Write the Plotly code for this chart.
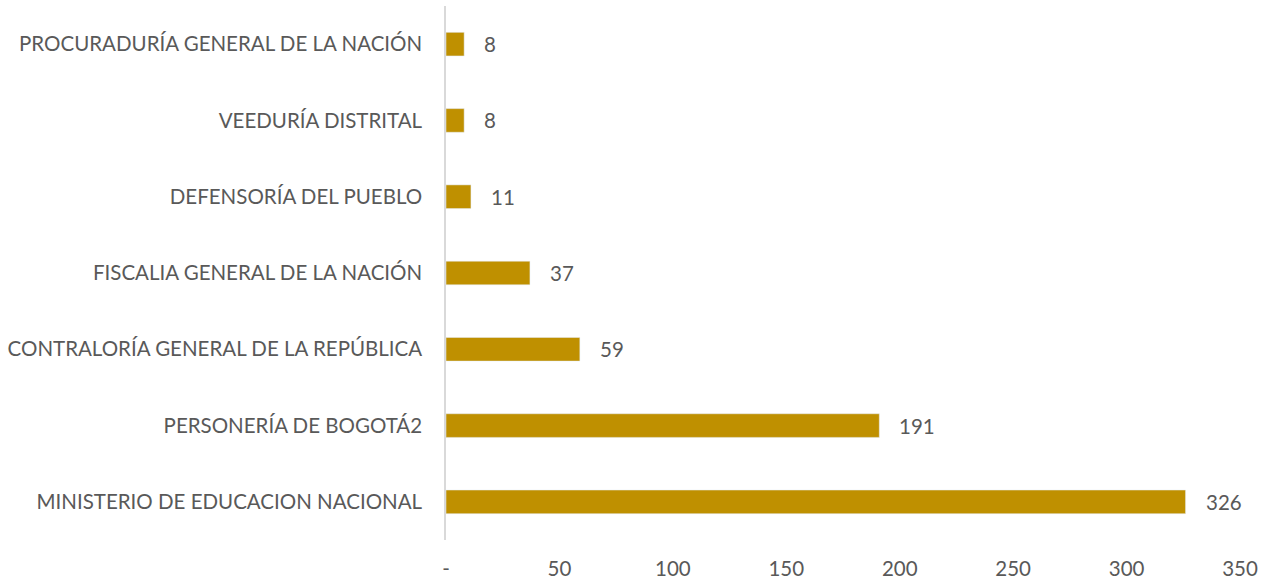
import plotly.graph_objects as go

categories = [
    "MINISTERIO DE EDUCACION NACIONAL",
    "PERSONERÍA DE BOGOTÁ2",
    "CONTRALORÍA GENERAL DE LA REPÚBLICA",
    "FISCALIA GENERAL DE LA NACIÓN",
    "DEFENSORÍA DEL PUEBLO",
    "VEEDURÍA DISTRITAL",
    "PROCURADURÍA GENERAL DE LA NACIÓN",
]
values = [326, 191, 59, 37, 11, 8, 8]
tick_vals = [0, 50, 100, 150, 200, 250, 300, 350]
tick_text = ["-", "50", "100", "150", "200", "250", "300", "350"]

FONT = "Lato"
GRAY = "#595959"
FS = 20.5

fig = go.Figure(go.Bar(
    y=categories, x=values, orientation="h",
    marker=dict(color="#BF9000"), width=0.31,
))

for c, v in zip(categories, values):
    fig.add_annotation(x=v, y=c, text=str(v), showarrow=False,
                       xanchor="left", xshift=18,
                       font=dict(family=FONT, size=FS, color=GRAY))

fig.update_layout(
    width=1265, height=582,
    margin=dict(l=446, r=25, t=6, b=42),
    plot_bgcolor="white", paper_bgcolor="white",
    showlegend=False,
    font=dict(family=FONT, size=FS, color=GRAY),
    xaxis=dict(range=[0, 350], tickvals=tick_vals, ticktext=tick_text,
               showgrid=False, zeroline=False, showline=False,
               ticks="", ticklabelstandoff=14, automargin=False,
               tickfont=dict(family=FONT, size=FS, color=GRAY)),
    yaxis=dict(showgrid=False, zeroline=False, showline=True,
               linecolor="#D9D9D9", linewidth=1.5, ticks="",
               ticklabelstandoff=18, automargin=False,
               tickfont=dict(family=FONT, size=FS, color=GRAY)),
)

fig.write_html("out.html")
